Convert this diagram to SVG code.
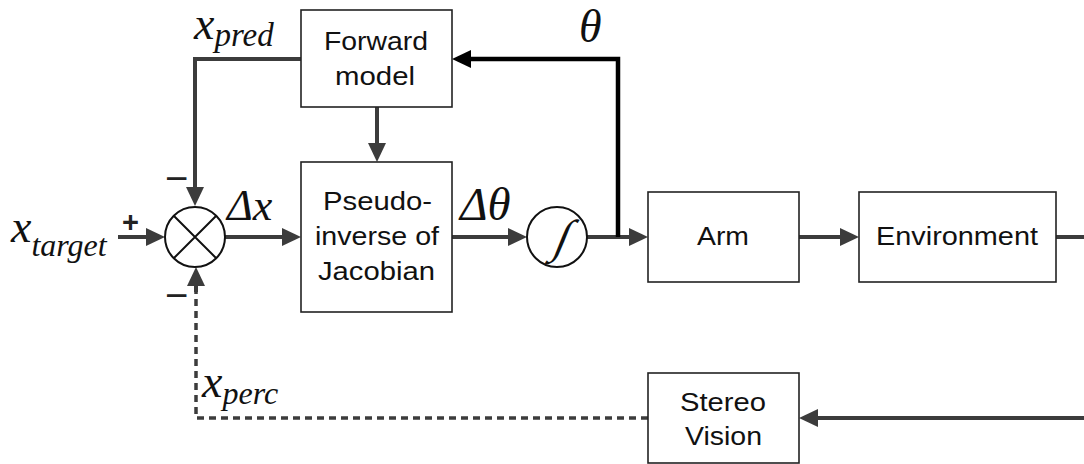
<svg xmlns="http://www.w3.org/2000/svg" width="1084" height="464" viewBox="0 0 1084 464">
<style>
.box{fill:#fff;stroke:#222;stroke-width:1.6}
.circ{fill:#fff;stroke:#111;stroke-width:2}
.lbl{font-family:"Liberation Sans",Arial,sans-serif;font-size:25px;fill:#111;text-anchor:middle}
.math{font-family:"Liberation Serif","Times New Roman",serif;font-style:italic;fill:#111}
.wire{fill:none;stroke:#3c3c3c;stroke-width:4}
.wireb{fill:none;stroke:#000;stroke-width:4.5}
.dash{fill:none;stroke:#3c3c3c;stroke-width:3.5;stroke-dasharray:7 5}
.sign{font-family:"Liberation Sans",Arial,sans-serif;fill:#222}
</style>
<defs>
<marker id="ah" markerUnits="userSpaceOnUse" markerWidth="20" markerHeight="20" refX="8" refY="9" orient="auto"><path d="M0,0 L19,9 L0,18 z" fill="#3c3c3c"/></marker>
<marker id="ahb" markerUnits="userSpaceOnUse" markerWidth="20" markerHeight="20" refX="8" refY="9" orient="auto"><path d="M0,0 L19,9 L0,18 z" fill="#000"/></marker>
</defs>
<rect width="1084" height="464" fill="#fff"/>
<g id="connectors">
<path class="wire" d="M118,237 H154" marker-end="url(#ah)"/>
<path class="wire" d="M225,237 H290" marker-end="url(#ah)"/>
<path class="wire" d="M452,237 H516" marker-end="url(#ah)"/>
<path class="wire" d="M587,237 H637" marker-end="url(#ah)"/>
<path class="wire" d="M799,237 H848" marker-end="url(#ah)"/>
<path class="wire" d="M1056,237 H1084"/>
<path class="wireb" d="M618,237 V59 H463" marker-end="url(#ahb)"/>
<path class="wire" d="M377,107 V151" marker-end="url(#ah)"/>
<path class="wire" d="M301,59 H195 V195" marker-end="url(#ah)"/>
<path class="wire" d="M1084,418 H810" marker-end="url(#ah)"/>
<path class="dash" d="M648,418 H196 V285"/>
<path class="wire" d="M196,292 V278" marker-end="url(#ah)"/>
</g>
<g id="sum">
<circle class="circ" cx="195" cy="237" r="30"/>
<path d="M174,216 L216,258 M216,216 L174,258" stroke="#111" stroke-width="2"/>
</g>
<g id="forward-model">
<rect class="box" x="301" y="10" width="151" height="97"/>
<text class="lbl" x="376" y="50" textLength="104" lengthAdjust="spacingAndGlyphs">Forward</text>
<text class="lbl" x="375" y="85" textLength="80" lengthAdjust="spacingAndGlyphs">model</text>
</g>
<g id="pseudo-inverse">
<rect class="box" x="301" y="162" width="151" height="150"/>
<text class="lbl" x="377.5" y="210" textLength="109" lengthAdjust="spacingAndGlyphs">Pseudo-</text>
<text class="lbl" x="377" y="245" textLength="124" lengthAdjust="spacingAndGlyphs">inverse of</text>
<text class="lbl" x="376.5" y="280" textLength="117" lengthAdjust="spacingAndGlyphs">Jacobian</text>
</g>
<g id="integrator">
<circle class="circ" cx="557" cy="237" r="30"/>
<text class="math" x="0" y="0" font-size="46" text-anchor="middle" transform="translate(558,252) skewX(-22)">∫</text>
</g>
<g id="arm">
<rect class="box" x="648" y="192" width="151" height="90"/>
<text class="lbl" x="723" y="245" textLength="52" lengthAdjust="spacingAndGlyphs">Arm</text>
</g>
<g id="environment">
<rect class="box" x="859" y="192" width="197" height="90"/>
<text class="lbl" x="957" y="245" textLength="162" lengthAdjust="spacingAndGlyphs">Environment</text>
</g>
<g id="stereo-vision">
<rect class="box" x="648" y="373" width="151" height="90"/>
<text class="lbl" x="723" y="411" textLength="86" lengthAdjust="spacingAndGlyphs">Stereo</text>
<text class="lbl" x="723.5" y="445" textLength="77" lengthAdjust="spacingAndGlyphs">Vision</text>
</g>
<g id="labels">
<text class="math" x="11" y="242" font-size="46">x<tspan font-size="32" dy="14">target</tspan></text>
<text class="math" x="194" y="39" font-size="46">x<tspan font-size="33" dy="7">pred</tspan></text>
<text class="math" x="202" y="397" font-size="46">x<tspan font-size="32" dy="7">perc</tspan></text>
<text class="math" x="227" y="220" font-size="44">Δx</text>
<text class="math" x="460" y="220" font-size="47">Δθ</text>
<text class="math" x="579" y="42" font-size="46">θ</text>
<text class="sign" x="122" y="232" font-size="29" font-weight="bold">+</text>
<text class="sign" x="165" y="192" font-size="40">−</text>
<text class="sign" x="165" y="309" font-size="40">−</text>
</g>
</svg>
